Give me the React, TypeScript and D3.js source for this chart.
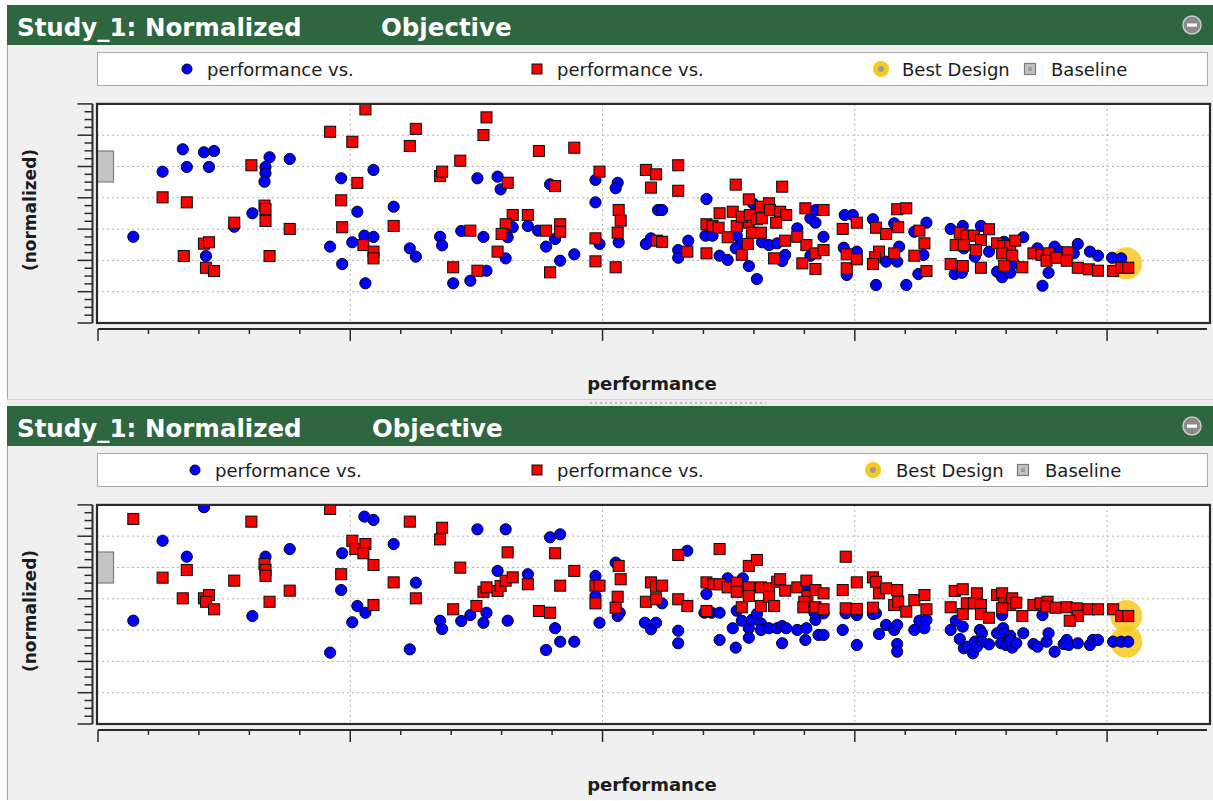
import React from 'react';
import * as d3 from 'd3';

type Pt = [number, number];

// ---- Data: performance (x) vs. normalized objective (y, baseline = 100) ----
const titleLeft = 'Study_1: Normalized';
const titleRight = 'Objective';
const legendLabels = ['performance vs.', 'performance vs.', 'Best Design', 'Baseline'];
const xLabel = 'performance';
const yLabel = '(normalized)';

const xMajorTicks = [0, 25, 50, 75, 100];
const xMinorTicks = [0, 5, 10, 15, 20, 25, 30, 35, 40, 45, 50, 55, 60, 65, 70, 75, 80, 85, 90, 95, 100, 105];
const yMajorTicks = [0, 20, 40, 60, 80, 100, 120, 140];
const yMinorTicks = [0, 5, 10, 15, 20, 25, 30, 35, 40, 45, 50, 55, 60, 65, 70, 75, 80, 85, 90, 95, 100, 105, 110, 115, 120, 125, 130, 135, 140];

const baselinePoint: Pt = [0, 100];

// Upper study: series A (circles)
const upperSeriesA: Pt[] = [
  [3.5,55.1],[6.4,96.7],[8.4,111.0],[8.8,99.7],[10.5,109.1],[11.5,109.9],[11.0,99.7],[10.7,42.8],[15.3,70.1],[13.5,61.5],
  [17.0,105.9],[16.6,99.7],[16.6,95.7],[16.5,90.3],[19.0,104.8],[23.0,48.8],[24.1,92.5],[24.2,37.7],[25.7,71.1],[25.2,51.6],
  [26.4,55.8],[27.3,55.0],[26.5,25.4],[27.3,97.8],[29.3,74.3],[30.9,47.7],[31.5,42.4],[33.9,55.1],[34.1,49.6],[36.0,58.8],
  [37.6,92.5],[39.6,93.5],[39.9,85.4],[38.2,55.0],[41.1,61.2],[40.6,54.8],[40.4,41.3],[42.6,62.0],[43.6,59.0],[44.4,48.8],
  [45.3,53.7],[45.8,39.8],[47.2,43.9],[35.2,25.4],[36.9,27.0],[38.5,33.4],[44.8,88.6],[49.3,91.4],[49.3,77.1],[51.5,89.6],
  [51.3,86.1],[49.7,50.5],[51.6,51.6],[55.5,72.2],[55.9,72.2],[54.3,50.5],[54.8,54.1],[57.5,46.6],[57.5,41.7],[58.5,52.6],
  [60.3,79.2],[60.2,55.8],[60.9,55.8],[61.6,43.0],[62.4,40.3],[63.3,55.8],[64.5,36.4],[65.3,28.1],[63.6,49.8],[63.2,47.7],
  [65.8,51.6],[66.5,49.8],[67.3,50.9],[68.1,43.5],[67.8,39.6],[69.3,60.5],[70.6,66.9],[71.1,64.1],[71.1,72.2],[64.9,76.5],
  [70.6,43.0],[71.9,55.1],[74.0,69.0],[74.8,69.0],[73.9,48.1],[75.2,45.6],[74.2,30.7],[76.8,66.3],[78.9,63.7],[79.4,48.8],
  [79.2,39.2],[78.1,39.2],[77.1,24.3],[80.1,24.3],[82.1,64.1],[81.8,43.5],[81.3,31.3],[80.9,58.3],[84.5,60.1],[85.7,62.0],
  [87.5,62.0],[88.3,45.6],[86.9,42.4],[84.9,31.3],[85.6,32.1],[85.8,47.7],[91.7,54.8],[89.8,51.9],[89.1,32.8],[89.6,29.2],
  [90.4,32.1],[90.8,38.1],[93.1,47.7],[94.8,48.8],[94.2,32.1],[93.6,23.8],[97.1,50.5],[98.3,45.6],[99.1,43.0],[96.7,44.5],
  [95.3,45.6],[100.5,41.7],[101.4,41.3],
];

// Upper study: series B (squares)
const upperSeriesB: Pt[] = [
  [6.4,80.3],[8.8,77.1],[8.5,42.8],[10.5,50.7],[11.0,51.6],[10.7,35.3],[11.5,33.2],[15.2,100.8],[13.5,64.1],[16.5,75.0],
  [16.6,72.8],[16.6,65.2],[17.0,42.8],[19.0,60.1],[23.0,122.2],[25.2,115.8],[26.5,136.5],[25.7,89.5],[24.1,78.4],[24.2,61.2],
  [26.3,49.8],[27.3,45.6],[27.3,41.3],[29.3,62.0],[30.9,113.1],[31.5,124.0],[33.9,93.9],[34.1,96.7],[35.9,103.7],[38.2,120.1],
  [38.5,131.4],[40.6,89.6],[43.7,109.9],[47.2,112.0],[45.3,87.5],[49.7,96.7],[54.3,97.8],[55.3,95.0],[54.8,86.5],[57.5,100.8],
  [57.5,84.5],[36.9,59.0],[41.1,69.0],[40.4,63.1],[40.0,56.9],[39.6,45.6],[42.6,69.0],[44.4,59.0],[45.8,63.1],[45.8,58.3],
  [35.2,35.6],[37.6,33.4],[44.8,32.4],[49.3,54.1],[49.3,39.4],[51.6,72.2],[51.8,65.4],[51.5,57.7],[51.3,35.6],[55.4,52.6],
  [55.9,51.9],[58.4,45.6],[63.2,88.4],[64.5,79.0],[67.8,87.1],[61.6,70.1],[62.9,71.1],[60.3,63.1],[60.9,62.0],[61.5,60.9],
  [63.3,62.0],[62.4,54.8],[60.3,44.5],[63.8,43.6],[64.4,50.5],[64.5,64.1],[64.8,57.7],[63.8,67.9],[64.6,69.0],[65.7,74.3],
  [65.3,66.3],[65.8,66.9],[66.5,76.5],[66.6,72.2],[67.6,71.1],[68.2,69.0],[67.2,64.1],[65.7,57.7],[68.1,52.6],[67.0,41.3],
  [69.3,55.1],[70.2,49.8],[69.8,38.1],[70.1,73.3],[71.1,44.5],[71.1,34.5],[71.9,72.2],[71.9,46.6],[73.8,60.1],[75.2,64.1],
  [74.2,43.9],[74.2,35.0],[75.2,40.7],[77.1,60.9],[78.1,56.9],[79.3,61.2],[79.2,72.7],[80.1,73.3],[81.4,59.0],[81.9,50.9],
  [80.9,43.0],[78.9,44.5],[77.4,45.6],[77.0,42.0],[76.8,37.7],[82.1,33.2],[85.4,57.7],[86.1,55.8],[86.8,55.8],[88.3,59.9],
  [87.5,53.0],[85.0,49.8],[85.8,49.8],[87.0,46.6],[84.5,37.7],[85.7,36.4],[87.5,35.3],[89.1,50.9],[89.7,49.2],[90.4,49.2],
  [90.9,52.6],[89.6,44.5],[90.6,43.0],[89.8,36.6],[91.6,35.6],[92.7,44.5],[93.5,43.5],[94.2,44.5],[94.0,39.8],[95.0,41.7],
  [96.1,45.2],[96.0,39.8],[97.1,35.3],[98.2,34.3],[99.1,33.4],[100.6,33.2],[101.4,35.3],[102.1,35.3],
];

const upperBest: Pt[] = [[101.9, 38.1]];

// Lower study: series A (circles)
const lowerSeriesA: Pt[] = [
  [10.5,138.5],[6.4,117.1],[8.8,106.9],[3.5,66.0],[16.6,106.9],[19.0,111.8],[15.3,69.0],[23.0,45.6],[24.2,109.1],[24.1,85.6],
  [25.7,75.4],[26.5,71.1],[25.2,65.0],[26.4,132.5],[27.3,130.4],[29.3,115.0],[30.9,47.7],[31.5,90.3],[33.9,66.0],[34.1,60.7],
  [36.0,65.8],[36.9,69.6],[37.6,124.4],[38.2,64.7],[38.5,71.1],[39.6,97.8],[40.4,124.4],[40.6,66.0],[42.6,95.7],[44.8,119.3],
  [45.8,121.2],[45.3,61.2],[44.4,47.3],[45.8,52.6],[47.2,52.6],[49.3,94.6],[49.3,81.8],[49.7,64.7],[51.3,103.1],[51.5,69.0],
  [51.7,71.1],[54.2,64.7],[54.8,60.5],[55.3,64.7],[55.9,77.1],[57.5,59.6],[57.5,51.6],[58.4,110.7],[60.3,83.1],[60.1,71.1],
  [60.8,71.1],[61.6,71.1],[61.6,53.7],[62.4,93.1],[62.9,61.2],[63.2,48.8],[63.3,72.4],[63.8,66.0],[63.9,93.1],[64.5,61.2],
  [64.5,55.1],[64.8,66.5],[65.3,70.3],[65.7,64.3],[65.7,60.1],[66.5,61.2],[67.3,61.2],[67.8,62.6],[68.2,61.2],[69.3,60.1],
  [70.2,61.2],[67.8,51.6],[70.1,53.7],[71.1,66.5],[71.4,56.9],[70.2,85.6],[71.9,56.9],[71.0,71.1],[71.9,70.7],[73.8,60.1],
  [74.1,70.7],[75.2,69.6],[75.2,50.5],[76.8,70.3],[77.1,70.7],[77.4,57.5],[78.1,63.3],[78.9,60.1],[79.2,63.3],[79.2,51.1],
  [79.2,46.2],[80.9,60.1],[81.4,66.0],[81.9,61.2],[82.1,66.5],[84.5,60.1],[85.0,66.0],[85.7,62.2],[85.4,54.3],[85.8,48.4],
  [86.2,49.4],[86.7,45.2],[86.9,52.6],[87.4,60.1],[87.6,58.0],[87.6,52.6],[87.1,49.4],[88.3,50.9],[89.1,58.0],[89.7,61.2],
  [89.8,58.0],[90.4,56.4],[89.5,51.6],[90.0,50.5],[90.6,48.8],[90.4,53.7],[91.0,51.6],[91.7,58.0],[92.7,51.1],[93.1,49.4],
  [94.0,52.6],[94.2,58.0],[94.8,46.2],[95.7,51.1],[96.0,53.7],[96.2,50.5],[97.1,51.6],[98.3,50.5],[98.6,53.7],[99.1,53.7],
  [100.6,52.6],[101.4,52.6],[102.1,52.6],[89.6,69.6],[93.6,69.6],
];

// Lower study: series B (squares)
const lowerSeriesB: Pt[] = [
  [3.5,131.0],[15.2,129.3],[23.0,137.4],[30.9,129.3],[6.4,93.5],[8.8,98.4],[8.4,80.3],[10.5,80.3],[11.0,82.4],[10.7,78.1],
  [11.5,73.3],[13.5,91.6],[16.5,102.2],[16.6,98.4],[16.6,94.6],[17.0,78.1],[19.0,85.2],[24.1,95.7],[25.2,117.1],[25.5,111.8],
  [26.5,115.0],[26.3,109.1],[27.3,101.6],[27.3,76.0],[29.3,90.5],[31.5,80.3],[34.1,125.4],[33.9,118.0],[35.9,99.9],[35.2,73.3],
  [37.5,75.4],[38.2,84.5],[38.5,87.3],[39.6,85.0],[39.9,88.2],[40.4,91.6],[41.1,93.7],[40.6,109.7],[42.6,89.3],[43.7,72.2],
  [44.8,71.1],[45.3,109.1],[45.8,88.4],[47.2,97.8],[49.3,88.4],[49.7,88.4],[49.3,77.1],[51.6,101.0],[51.8,92.5],[51.5,81.3],
  [51.3,74.3],[54.8,90.5],[55.3,87.7],[55.9,88.4],[54.3,78.1],[55.3,79.7],[57.5,108.0],[57.5,79.7],[58.4,75.4],[61.6,111.8],
  [60.3,90.5],[61.0,89.3],[61.6,89.3],[62.4,87.3],[63.3,90.3],[63.3,84.5],[64.5,101.0],[65.3,104.8],[64.5,87.3],[64.5,81.8],
  [65.7,87.3],[65.7,75.4],[63.8,74.6],[66.5,86.7],[66.5,81.3],[67.3,90.9],[67.6,92.5],[68.1,85.2],[67.0,75.4],[69.3,87.3],
  [70.2,91.6],[70.3,81.8],[70.0,78.1],[69.9,74.6],[71.1,85.6],[71.1,74.6],[60.3,72.2],[71.9,83.5],[71.9,73.3],[74.1,106.9],
  [73.8,85.6],[74.1,73.9],[75.2,73.5],[75.2,90.5],[76.8,93.7],[77.1,90.9],[77.4,83.5],[78.1,86.7],[79.2,85.6],[78.9,76.0],
  [79.3,78.1],[80.1,71.8],[80.9,79.2],[81.9,82.4],[82.1,73.3],[76.8,74.3],[84.9,85.0],[85.7,86.1],[84.5,74.6],[85.7,70.3],
  [86.1,77.1],[87.1,83.5],[86.8,77.1],[87.5,76.0],[87.5,70.3],[88.3,67.9],[89.1,82.4],[89.6,83.5],[89.8,77.1],[90.4,76.0],
  [90.6,80.3],[89.6,73.9],[91.0,77.5],[91.6,69.0],[92.7,76.0],[93.4,77.1],[94.1,78.1],[94.0,75.0],[94.9,74.3],[96.0,74.6],
  [97.0,73.9],[97.1,69.0],[96.3,66.0],[98.2,73.3],[99.1,73.3],[100.6,73.3],[101.4,69.0],[102.1,69.0],
];

const lowerBest: Pt[] = [[101.9, 69.0], [101.9, 52.6]];

// ---- Layout ----
const W = 1213;
const H = 801;
const FONT = '"DejaVu Sans", Verdana, sans-serif';

interface PanelLayout {
  dy: number;
  objectiveX: number;
  legendX: { markA: number; textA: number; markB: number; textB: number; markBest: number; textBest: number; markBase: number; textBase: number };
}

const upperLayout: PanelLayout = {
  dy: 0,
  objectiveX: 381,
  legendX: { markA: 187, textA: 207, markB: 537, textB: 557, markBest: 881, textBest: 902, markBase: 1030, textBase: 1051 },
};
const lowerLayout: PanelLayout = {
  dy: 401,
  objectiveX: 372,
  legendX: { markA: 195, textA: 215, markB: 537, textB: 557, markBest: 873, textBest: 896, markBase: 1023, textBase: 1045 },
};

const PLOT_L = 97;
const PLOT_R = 1210;
const PLOT_T = 103.9;
const PLOT_B = 323;
const DOT_R = 5.6;
const SQ = 11;

const x = d3.scaleLinear().domain([0, 110.2]).range([98, 1210]);

function Panel({ layout, seriesA, seriesB, best, id }: { layout: PanelLayout; seriesA: Pt[]; seriesB: Pt[]; best: Pt[]; id: string }) {
  const dy = layout.dy;
  const y = d3.scaleLinear().domain([0, 140]).range([PLOT_B + dy, PLOT_T + dy]);
  const lx = layout.legendX;
  const legendY = 69 + dy;
  const axisY = 329 + dy;
  const yAxisX = 92.5;
  const clipId = `plot-clip-${id}`;
  const textColor = '#1c1c1c';

  return (
    <g>
      {/* panel body */}
      <rect x={7} y={45 + dy} width={W - 7} height={354} fill="#f0f0f0" />
      <line x1={7.5} x2={7.5} y1={5 + dy} y2={399 + dy} stroke="#a6a6a6" strokeWidth={1} />
      {/* header */}
      <rect x={7} y={5 + dy} width={W - 7} height={40} fill="#2e6640" />
      <text x={17} y={36 + dy} fill="#ffffff" fontFamily={FONT} fontWeight="bold" fontSize={24.5}>{titleLeft}</text>
      <text x={layout.objectiveX} y={36 + dy} fill="#ffffff" fontFamily={FONT} fontWeight="bold" fontSize={24.5}>{titleRight}</text>
      <circle cx={1192} cy={25 + dy} r={9} fill="#8a8a8a" stroke="#c9c9c9" strokeWidth={1.5} />
      <rect x={1187} y={23.5 + dy} width={10} height={3.2} fill="#ffffff" />

      {/* legend */}
      <rect x={97.5} y={52.5 + dy} width={1110} height={33} fill="#ffffff" stroke="#a9a9a9" strokeWidth={1} />
      <circle cx={lx.markA} cy={legendY} r={5} fill="#0000ff" stroke="#000022" strokeWidth={1} />
      <text x={lx.textA} y={legendY + 7} fill={textColor} fontFamily={FONT} fontSize={18}>{legendLabels[0]}</text>
      <rect x={lx.markB - 5} y={legendY - 5} width={10} height={10} fill="#ff0000" stroke="#111" strokeWidth={1} />
      <text x={lx.textB} y={legendY + 7} fill={textColor} fontFamily={FONT} fontSize={18}>{legendLabels[1]}</text>
      <circle cx={lx.markBest} cy={legendY} r={8} fill="#f7c81e" />
      <circle cx={lx.markBest} cy={legendY} r={3} fill="#9a9a9a" />
      <text x={lx.textBest} y={legendY + 7} fill={textColor} fontFamily={FONT} fontSize={18}>{legendLabels[2]}</text>
      <rect x={lx.markBase - 5.5} y={legendY - 5.5} width={11} height={11} fill="#c4c4c4" stroke="#7a7a7a" strokeWidth={1.2} />
      <rect x={lx.markBase - 2} y={legendY - 2} width={4} height={4} fill="#a0a0a0" />
      <text x={lx.textBase} y={legendY + 7} fill={textColor} fontFamily={FONT} fontSize={18}>{legendLabels[3]}</text>

      {/* plot area */}
      <defs>
        <clipPath id={clipId}>
          <rect x={PLOT_L} y={PLOT_T + dy} width={PLOT_R - PLOT_L} height={PLOT_B - PLOT_T} />
        </clipPath>
      </defs>
      <rect x={PLOT_L} y={PLOT_T + dy} width={PLOT_R - PLOT_L} height={PLOT_B - PLOT_T} fill="#ffffff" />
      {yMajorTicks.filter((t) => t > 0 && t < 140).map((t) => (
        <line key={`gy${t}`} x1={PLOT_L} x2={PLOT_R} y1={y(t)} y2={y(t)} stroke="#b4b4b4" strokeWidth={1} strokeDasharray="2,3" />
      ))}
      {xMajorTicks.filter((t) => t > 0).map((t) => (
        <line key={`gx${t}`} x1={x(t)} x2={x(t)} y1={PLOT_T + dy} y2={PLOT_B + dy} stroke="#b4b4b4" strokeWidth={1} strokeDasharray="2,3" />
      ))}
      <g clipPath={`url(#${clipId})`}>
        <rect x={x(baselinePoint[0]) - 15.5} y={y(baselinePoint[1]) - 15.5} width={31} height={31} fill="#c4c4c4" stroke="#7d7d7d" strokeWidth={1.2} />
        {best.map((p, i) => (
          <circle key={`b${i}`} cx={x(p[0])} cy={y(p[1])} r={16} fill="#f7c81e" fillOpacity={0.85} />
        ))}
        {seriesA.map((p, i) => (
          <circle key={`a${i}`} cx={x(p[0])} cy={y(p[1])} r={DOT_R} fill="#0000ff" stroke="#00001a" strokeWidth={1} />
        ))}
        {seriesB.map((p, i) => (
          <rect key={`s${i}`} x={x(p[0]) - SQ / 2} y={y(p[1]) - SQ / 2} width={SQ} height={SQ} fill="#ff0000" stroke="#111" strokeWidth={1.1} />
        ))}
      </g>
      <rect x={PLOT_L} y={PLOT_T + dy} width={PLOT_R - PLOT_L} height={PLOT_B - PLOT_T} fill="none" stroke="#2a2a2a" strokeWidth={2.2} />

      {/* y axis */}
      <line x1={yAxisX} x2={yAxisX} y1={y(140)} y2={y(0)} stroke="#2a2a2a" strokeWidth={2} />
      {yMinorTicks.map((t) => (
        <line key={`ymi${t}`} x1={yAxisX - (t % 20 === 0 ? 15 : 8)} x2={yAxisX} y1={y(t)} y2={y(t)} stroke="#2a2a2a" strokeWidth={1.5} />
      ))}
      <text
        transform={`translate(30, ${210 + dy}) rotate(-90)`}
        textAnchor="middle"
        dominantBaseline="central"
        fill={textColor}
        fontFamily={FONT}
        fontWeight="bold"
        fontSize={17}
      >
        {yLabel}
      </text>

      {/* x axis */}
      <line x1={x(0)} x2={1207} y1={axisY} y2={axisY} stroke="#2a2a2a" strokeWidth={2} />
      {xMinorTicks.map((t) => (
        <line key={`xmi${t}`} x1={x(t)} x2={x(t)} y1={axisY} y2={axisY + (xMajorTicks.includes(t) ? 12 : 5)} stroke="#2a2a2a" strokeWidth={1.5} />
      ))}
      <text x={652} y={390 + dy} textAnchor="middle" fill={textColor} fontFamily={FONT} fontWeight="bold" fontSize={18}>{xLabel}</text>
    </g>
  );
}

export default function App() {
  return (
    <svg width={W} height={H} style={{ position: 'absolute', left: 0, top: 0, display: 'block', background: '#ffffff' }}>
      <Panel id="upper" layout={upperLayout} seriesA={upperSeriesA} seriesB={upperSeriesB} best={upperBest} />
      <Panel id="lower" layout={lowerLayout} seriesA={lowerSeriesA} seriesB={lowerSeriesB} best={lowerBest} />
      {/* splitter between the two panels */}
      <rect x={7} y={399} width={W - 7} height={7} fill="#ececec" />
      <line x1={7} x2={W} y1={399.5} y2={399.5} stroke="#d2d2d2" strokeWidth={1} />
      <line x1={590} x2={766} y1={403} y2={403} stroke="#b0b0b0" strokeWidth={1.5} strokeDasharray="2,3" />
    </svg>
  );
}
